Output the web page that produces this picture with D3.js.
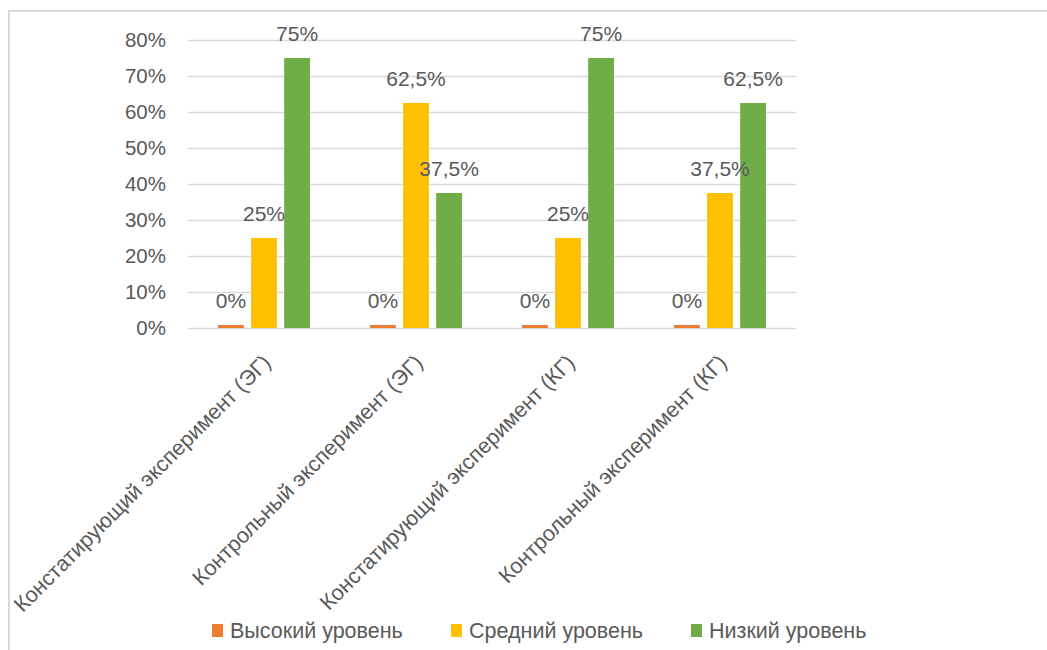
<!DOCTYPE html>
<html>
<head>
<meta charset="utf-8">
<script src="https://cdn.jsdelivr.net/npm/d3@7"></script>
<style>
  html, body { margin: 0; padding: 0; background: #fff; }
  svg { display: block; }
  text { font-family: "Liberation Sans", Arial, sans-serif; fill: #595959; }
</style>
</head>
<body>
<svg id="chart" width="1047" height="650"></svg>
<script>
// Chart data
const categories = [
  "Констатирующий эксперимент (ЭГ)",
  "Контрольный эксперимент (ЭГ)",
  "Констатирующий эксперимент (КГ)",
  "Контрольный эксперимент (КГ)"
];
const seriesNames = ["Высокий уровень", "Средний уровень", "Низкий уровень"];
const highLevel   = [0, 0, 0, 0];
const middleLevel = [0.25, 0.625, 0.25, 0.375];
const lowLevel    = [0.75, 0.375, 0.75, 0.625];
const seriesColors = ["#ED7D31", "#FFC000", "#70AD47"];
const yTicks = [0, 0.1, 0.2, 0.3, 0.4, 0.5, 0.6, 0.7, 0.8];

const seriesValues = [highLevel, middleLevel, lowLevel];

const ru = d3.formatLocale({ decimal: ",", thousands: "\u00a0", grouping: [3], currency: ["", " ₽"] });
const pct = ru.format(".1~%");
const tickFmt = ru.format(".0%");

const svg = d3.select("#chart");

// Outer chart frame
svg.append("rect")
  .attr("x", 9).attr("y", 11)
  .attr("width", 1060).attr("height", 660)
  .attr("fill", "#fff")
  .attr("stroke", "#d9d9d9").attr("stroke-width", 2);

const plot = { left: 188, right: 796, top: 40, bottom: 328 };

const y = d3.scaleLinear().domain([0, 0.8]).range([plot.bottom, plot.top]);
const x0 = d3.scaleBand().domain(categories)
  .range([plot.left, plot.right])
  .paddingInner(0.395).paddingOuter(0.1975);
const x1 = d3.scaleBand().domain(seriesNames)
  .range([0, x0.bandwidth()])
  .paddingInner(0.22).paddingOuter(0);

// Gridlines
svg.append("g")
  .selectAll("line")
  .data(yTicks)
  .join("line")
  .attr("x1", plot.left).attr("x2", plot.right)
  .attr("y1", d => Math.round(y(d)) + 0.5).attr("y2", d => Math.round(y(d)) + 0.5)
  .attr("stroke", "#d9d9d9").attr("stroke-width", 1.5);

// Y axis labels
const yAxis = d3.axisLeft(y).tickValues(yTicks).tickFormat(tickFmt).tickSize(0).tickPadding(22);
svg.append("g")
  .attr("transform", `translate(${plot.left},0)`)
  .call(yAxis)
  .call(g => g.select(".domain").remove())
  .call(g => g.selectAll("text")
    .attr("font-size", 20.5)
    .attr("font-family", "Liberation Sans, Arial, sans-serif")
    .attr("fill", "#595959"));

// Bars
const rows = categories.map((c, i) => ({
  category: c,
  values: seriesNames.map((s, j) => ({ series: s, value: seriesValues[j][i], color: seriesColors[j] }))
}));

const minVisible = 3; // zero-value bars still show as a thin sliver
const groups = svg.append("g")
  .selectAll("g")
  .data(rows)
  .join("g")
  .attr("transform", d => `translate(${x0(d.category)},0)`);

groups.selectAll("rect")
  .data(d => d.values)
  .join("rect")
  .attr("x", d => x1(d.series))
  .attr("width", x1.bandwidth())
  .attr("y", d => Math.min(y(d.value), plot.bottom - minVisible))
  .attr("height", d => Math.max(plot.bottom - y(d.value), minVisible))
  .attr("fill", d => d.color);

// Value labels
groups.selectAll("text")
  .data(d => d.values)
  .join("text")
  .attr("x", d => x1(d.series) + x1.bandwidth() / 2)
  .attr("y", d => Math.min(y(d.value), plot.bottom - minVisible) - 17)
  .attr("text-anchor", "middle")
  .attr("font-size", 21)
  .text(d => pct(d.value));

// Category labels (rotated)
svg.append("g")
  .selectAll("text")
  .data(categories)
  .join("text")
  .attr("transform", d => `translate(${x0(d) + x0.bandwidth() / 2 + 8},${364}) rotate(-45)`)
  .attr("text-anchor", "end")
  .attr("font-size", 21.6)
  .text(d => d);

// Legend
const legendX = [212, 451, 691];
const legend = svg.append("g")
  .selectAll("g")
  .data(seriesNames)
  .join("g")
  .attr("transform", (d, i) => `translate(${legendX[i]},${624})`);
legend.append("rect")
  .attr("width", 11).attr("height", 13)
  .attr("fill", (d, i) => seriesColors[i]);
legend.append("text")
  .attr("x", 18).attr("y", 14)
  .attr("font-size", 21.5)
  .text(d => d);
</script>
</body>
</html>
